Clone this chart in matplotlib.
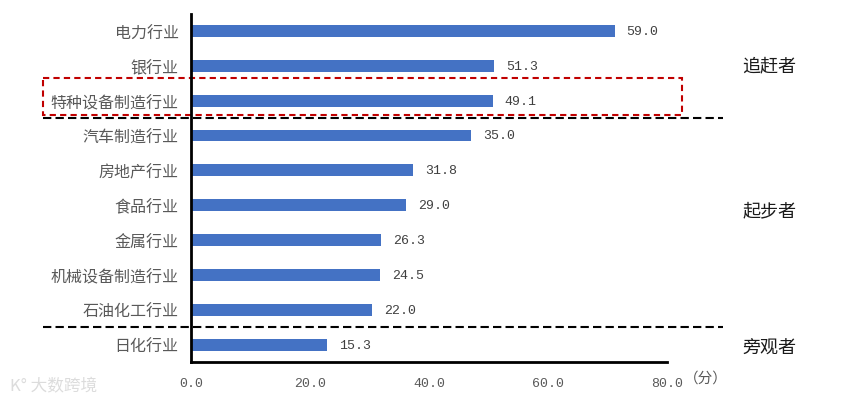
import matplotlib
matplotlib.use('Agg')
import matplotlib.pyplot as plt
from matplotlib.patches import Rectangle

plt.rcParams['font.family'] = ['Noto Sans CJK SC', 'DejaVu Sans']

industries = ['电力行业', '银行业', '特种设备制造行业', '汽车制造行业', '房地产行业',
              '食品行业', '金属行业', '机械设备制造行业', '石油化工行业', '日化行业']
# scores printed next to the bars
scores = [59.0, 51.3, 49.1, 35.0, 31.8, 29.0, 26.3, 24.5, 22.0, 15.3]
# bar lengths as drawn in the original picture (read against the x axis)
bar_len = [71.2, 50.9, 50.7, 47.1, 37.3, 36.1, 31.9, 31.8, 30.4, 22.9]
xticks = [0, 20, 40, 60, 80]
groups = ['追赶者', '起步者', '旁观者']
group_pos = [1.0, 5.15, 9.1]

gray = '#595959'
mono = ['Liberation Mono', 'DejaVu Sans Mono']

fig = plt.figure(figsize=(8.54, 4.10), dpi=100)
ax = fig.add_axes([0.2237, 0.1146, 0.5574, 0.85])

y = list(range(len(industries)))
ax.barh(y, bar_len, height=0.34, color='#4472C4')

for i in range(len(y)):
    ax.text(bar_len[i] + 2.0, y[i], '%.1f' % scores[i], va='center', ha='left',
            fontsize=9.5, color='#404040', family=mono)

ax.set_xlim(0, 80)
ax.set_ylim(9.5, -0.5)
ax.set_yticks(y)
ax.set_yticklabels(industries, fontsize=11.5, color=gray)
ax.set_xticks(xticks)
ax.set_xticklabels(['%.1f' % v for v in xticks], fontsize=9.5, color=gray, family=mono)
ax.tick_params(length=0, pad=9)
ax.tick_params(axis='x', pad=11)

for s in ['top', 'right']:
    ax.spines[s].set_visible(False)
for s in ['left', 'bottom']:
    ax.spines[s].set_linewidth(2)
    ax.spines[s].set_color('black')

tr = ax.get_yaxis_transform()
for yy in [2.5, 8.5]:
    ax.plot([-0.311, 1.118], [yy, yy], transform=tr, color='black', ls=(0, (4, 2)),
            lw=1.5, clip_on=False)

box = Rectangle((-0.3116, 1.35), 1.343, 1.05, transform=tr, fill=False,
                edgecolor='#C00000', ls=(0, (3, 2)), lw=1.5, clip_on=False)
ax.add_patch(box)

for g, p in zip(groups, group_pos):
    ax.text(1.215, p, g, transform=tr, ha='center', va='center', fontsize=13, color='#1a1a1a')

ax.text(1.036, -0.025, '（分）', transform=ax.transAxes, ha='left', va='top',
        fontsize=10.5, color=gray)

fig.text(0.012, 0.035, 'K° 大数跨境', fontsize=12, color='#dcdcdc', ha='left', va='bottom')

fig.savefig('out.png', dpi=100)
